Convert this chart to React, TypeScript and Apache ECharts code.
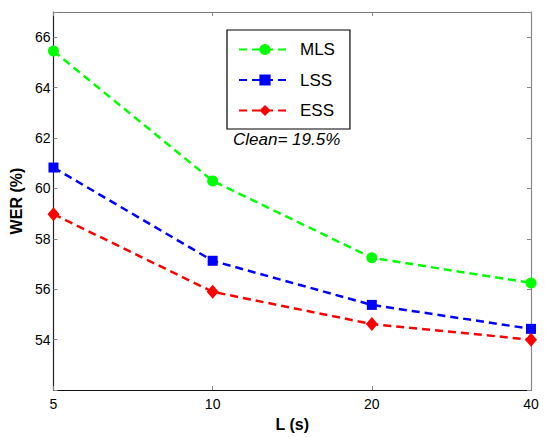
import React, { useEffect, useRef } from "react";
import * as echarts from "echarts";

const categories = ["5", "10", "20", "40"];
const mlsValues = [65.45, 60.3, 57.25, 56.25];
const lssValues = [60.83, 57.13, 55.38, 54.43];
const essValues = [58.98, 55.9, 54.62, 54.0];
const yTickLabels = [54, 56, 58, 60, 62, 64, 66];
const seriesNames = ["MLS", "LSS", "ESS"];
const annotation = "Clean= 19.5%";

const FONT = "Liberation Sans, Arial, sans-serif";

export default function App() {
  const ref = useRef<HTMLDivElement>(null);
  useEffect(() => {
    if (!ref.current) return;
    const chart = echarts.init(ref.current, undefined, { renderer: "svg" });
    const mkLine = (name: string, data: number[], color: string, symbol: string, size: any) => ({
      name,
      type: "line",
      data,
      symbol,
      symbolSize: size,
      showAllSymbol: true,
      lineStyle: { color, width: 2.5, type: [8, 5] },
      itemStyle: { color, borderWidth: 0 },
      z: 3,
    });
    const labelFmt = (v: number) => (yTickLabels.includes(v) ? String(v) : "");
    chart.setOption({
      animation: false,
      backgroundColor: "#fff",
      textStyle: { fontFamily: FONT },
      grid: { left: 46, right: 14, top: 12, bottom: 43, containLabel: false },
      legend: {
        orient: "vertical",
        left: 227,
        top: 30,
        data: seriesNames,
        backgroundColor: "#fff",
        borderColor: "#000",
        borderWidth: 1.2,
        borderRadius: 0,
        padding: [11, 15, 10, 11],
        itemWidth: 52,
        itemHeight: 14,
        itemGap: 13.5,
        textStyle: { fontSize: 17, color: "#000", fontFamily: FONT, padding: [0, 0, 0, 4] },
        selectedMode: false,
      },
      xAxis: [
        {
          type: "category",
          data: categories,
          boundaryGap: false,
          name: "L (s)",
          nameLocation: "middle",
          nameGap: 21,
          nameTextStyle: { fontSize: 16, fontWeight: "bold", color: "#000", fontFamily: FONT },
          axisLine: { lineStyle: { color: "#111", width: 1.2 } },
          axisTick: { inside: true, length: 4, lineStyle: { color: "#888" } },
          axisLabel: { fontSize: 14, color: "#000", margin: 7, fontFamily: FONT },
          splitLine: { show: false },
        },
        {
          type: "category",
          data: categories,
          boundaryGap: false,
          position: "top",
          axisLine: { lineStyle: { color: "#777", width: 1.2 } },
          axisTick: { inside: true, length: 4, lineStyle: { color: "#888" } },
          axisLabel: { show: false },
          splitLine: { show: false },
        },
      ],
      yAxis: [
        {
          type: "value",
          min: 52,
          max: 67,
          interval: 2,
          name: "WER (%)",
          nameLocation: "middle",
          nameGap: 20,
          nameTextStyle: { fontSize: 16, fontWeight: "bold", color: "#000", fontFamily: FONT },
          axisLine: { show: true, lineStyle: { color: "#222", width: 1.2 } },
          axisTick: { show: true, inside: true, length: 4, lineStyle: { color: "#888" } },
          axisLabel: { fontSize: 14, color: "#000", margin: 3, formatter: labelFmt, fontFamily: FONT },
          splitLine: { show: false },
        },
        {
          type: "value",
          min: 52,
          max: 67,
          interval: 2,
          position: "right",
          axisLine: { show: true, lineStyle: { color: "#888", width: 1.2 } },
          axisTick: { show: true, inside: true, length: 4, lineStyle: { color: "#888" } },
          axisLabel: { show: false },
          splitLine: { show: false },
        },
      ],
      graphic: [
        {
          type: "text",
          left: 233,
          top: 131,
          style: {
            text: annotation,
            fontSize: 17,
            fontStyle: "italic",
            fill: "#000",
            fontFamily: FONT,
          },
        },
      ],
      series: [
        mkLine(seriesNames[0], mlsValues, "#00ff00", "circle", 11),
        mkLine(seriesNames[1], lssValues, "#0000ff", "rect", 10),
        mkLine(seriesNames[2], essValues, "#ff0000", "diamond", [12, 14]),
      ],
    });
    return () => chart.dispose();
  }, []);
  return (
    <div
      ref={ref}
      style={{ position: "fixed", left: 0, top: 0, width: 545, height: 437, background: "#fff" }}
    />
  );
}
